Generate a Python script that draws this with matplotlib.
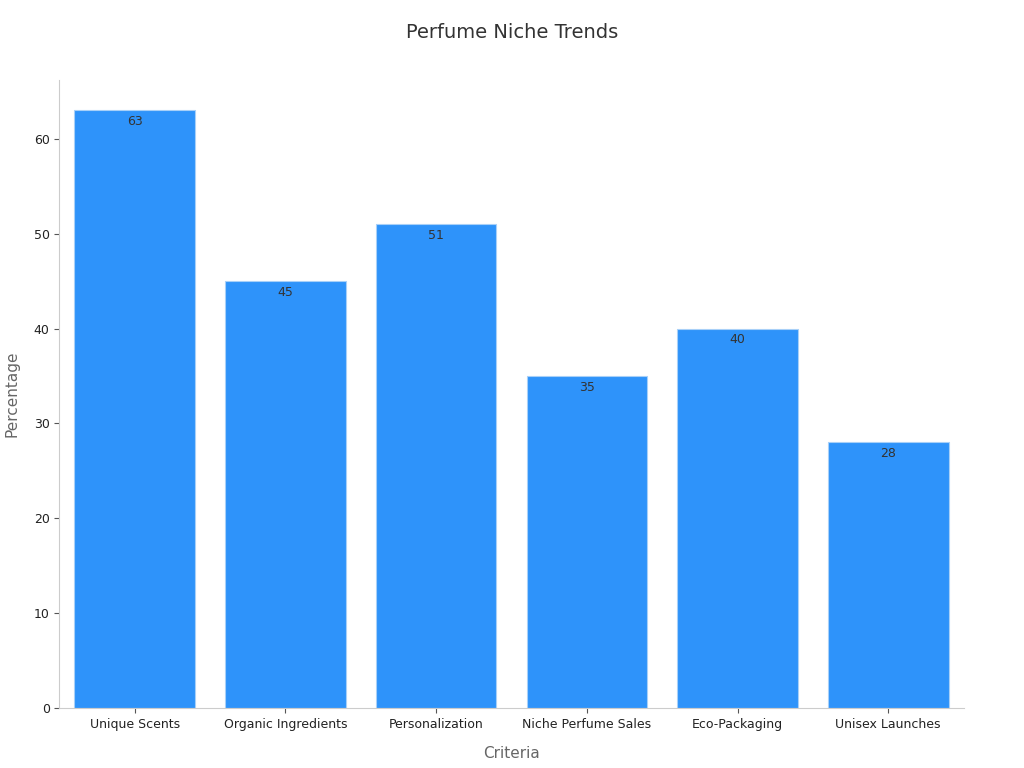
import matplotlib
matplotlib.use("Agg")
import matplotlib.pyplot as plt

categories = ["Unique Scents", "Organic Ingredients", "Personalization", "Niche Perfume Sales", "Eco-Packaging", "Unisex Launches"]
values = [63, 45, 51, 35, 40, 28]

plt.rcParams['font.family'] = ['DejaVu Sans']
fig = plt.figure(figsize=(10.24, 7.68), dpi=100)
ax = fig.add_axes([0.058, 0.078, 0.883, 0.818])
bars = ax.bar(categories, values, width=0.8, color="#2e93fa", edgecolor="#a8d0f8", linewidth=0.8)
for i, v in enumerate(values):
    ax.text(i, v - 0.5, str(v), ha="center", va="top", fontsize=9, color="#333333")
ax.set_xlim(-0.5, 5.5)
ax.set_ylim(0, 66.2)
ax.set_yticks([0, 10, 20, 30, 40, 50, 60])
for s in ["top", "right"]:
    ax.spines[s].set_visible(False)
for s in ["left", "bottom"]:
    ax.spines[s].set_color("#cccccc")
ax.tick_params(axis="both", labelsize=9, colors="#222222")
ax.tick_params(axis="both", color="#555555")
ax.set_xlabel("Criteria", fontsize=11, color="#666666", labelpad=11)
ax.set_ylabel("Percentage", fontsize=11, color="#666666", labelpad=10)
fig.suptitle("Perfume Niche Trends", fontsize=14, color="#333333", y=0.97)
fig.savefig("out.png", dpi=100)
